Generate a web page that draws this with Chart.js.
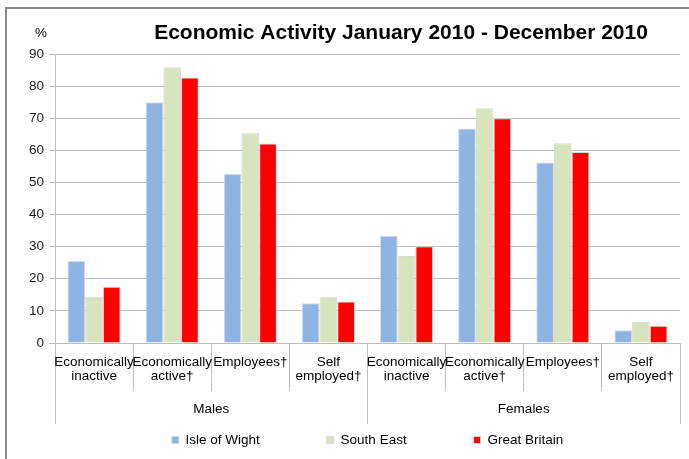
<!DOCTYPE html>
<html>
<head>
<meta charset="utf-8">
<title>Economic Activity January 2010 - December 2010</title>
<script src="https://cdn.jsdelivr.net/npm/chart.js@4.4.1/dist/chart.umd.min.js"></script>
<style>
  body { margin: 0; background: #fff; }
  .frame { position: absolute; left: 5px; top: 7px; width: 700px; height: 470px; border-top: 2px solid #8a8a8a; border-left: 2px solid #8a8a8a; }
  #chart { position: absolute; left: 0; top: 0; }
</style>
</head>
<body>
<div class="frame"></div>
<canvas id="chart" width="689" height="459"></canvas>
<script>
// categories and values
const categories = [
  ['Economically', 'inactive'], ['Economically', 'active†'], ['Employees†'], ['Self', 'employed†'],
  ['Economically', 'inactive'], ['Economically', 'active†'], ['Employees†'], ['Self', 'employed†']
];
const groups = ['Males', 'Females'];
const isleOfWight = [25.5, 75.0, 52.7, 12.4, 33.4, 66.8, 56.2, 4.0];
const southEast = [14.4, 85.9, 65.3, 14.4, 27.1, 73.1, 62.2, 6.6];
const greatBritain = [17.5, 82.7, 62.1, 12.9, 30.1, 70.0, 59.5, 5.4];
const yTicks = [0, 10, 20, 30, 40, 50, 60, 70, 80, 90];

const chartTitle = 'Economic Activity January 2010 - December 2010';
const unitLabel = '%';

const font = 'Arial, "Liberation Sans", sans-serif';
const gridGrey = '#bdbdbd';

// title and unit label sit off-centre, so they are drawn here
const headerText = {
  id: 'headerText',
  afterDraw(chart) {
    const ctx = chart.ctx;
    ctx.save();
    ctx.fillStyle = '#000';
    ctx.textBaseline = 'middle';
    ctx.textAlign = 'center';
    ctx.font = 'bold 21px ' + font;
    ctx.fillText(chartTitle, 401, 33);
    ctx.font = '13.5px ' + font;
    ctx.fillText(unitLabel, 41, 33);
    ctx.restore();
  }
};

new Chart(document.getElementById('chart'), {
  type: 'bar',
  data: {
    labels: categories,
    datasets: [
      { label: 'Isle of Wight', data: isleOfWight, backgroundColor: '#8EB4E3' },
      { label: 'South East', data: southEast, backgroundColor: '#D7E4BD' },
      { label: 'Great Britain', data: greatBritain, backgroundColor: '#FF0000' }
    ]
  },
  options: {
    responsive: false,
    animation: false,
    devicePixelRatio: 1,
    layout: { padding: { top: 54, right: 9, bottom: 2.25, left: 0 } },
    datasets: {
      bar: { categoryPercentage: 0.68, barPercentage: 1.0, borderWidth: 1, borderColor: '#d9d9d9' }
    },
    scales: {
      y: {
        min: 0,
        max: 90,
        afterBuildTicks: (scale) => { scale.ticks = yTicks.map(v => ({ value: v })); },
        afterFit: (scale) => { scale.width = 55; },
        grid: { color: gridGrey, lineWidth: 1, tickLength: 6 },
        border: { color: gridGrey },
        ticks: { padding: 5, color: '#1a1a1a', font: { family: font, size: 13.5 } }
      },
      // category labels hang under the zero line, between the short separators
      x: {
        axis: 'x',
        position: { y: 0 },
        offset: true,
        grid: { offset: true, drawOnChartArea: false, tickLength: 47, color: gridGrey },
        border: { color: gridGrey },
        ticks: {
          autoSkip: false, maxRotation: 0, minRotation: 0, padding: -35.1, color: '#000',
          font: { family: font, size: 13.5, lineHeight: 1.05 }
        }
      },
      // Males / Females, with the long separators
      x2: {
        type: 'category',
        axis: 'x',
        position: { y: 0 },
        labels: groups,
        offset: true,
        grid: { offset: true, drawOnChartArea: false, tickLength: 81, color: gridGrey },
        border: { display: false },
        ticks: { autoSkip: false, maxRotation: 0, padding: -23.1, color: '#000', font: { family: font, size: 13.5 } }
      }
    },
    plugins: {
      title: { display: false },
      tooltip: { enabled: false },
      legend: {
        position: 'bottom',
        fullSize: false,
        title: { display: true, text: '', padding: { top: 13.25, bottom: 0 }, font: { size: 10, lineHeight: 1 } },
        labels: { boxWidth: 7, boxHeight: 7, padding: 67, color: '#000', font: { family: font, size: 13.5 } }
      }
    }
  },
  plugins: [headerText]
});
</script>
</body>
</html>
